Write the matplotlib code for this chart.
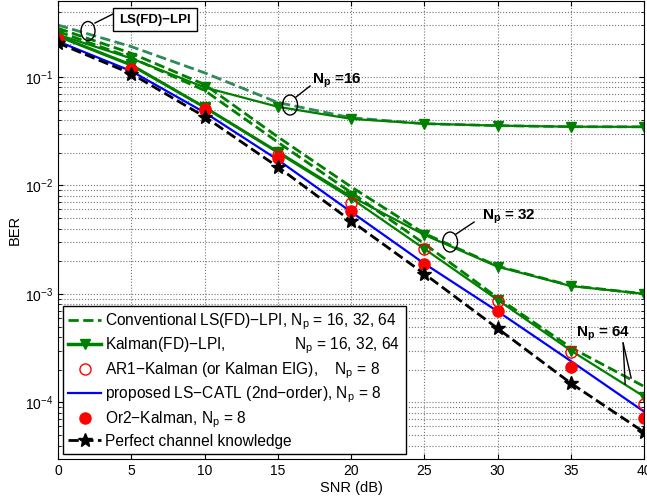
import numpy as np
import matplotlib
matplotlib.use("Agg")
import matplotlib.pyplot as plt
from matplotlib.patches import Ellipse
from matplotlib.lines import Line2D

plt.rcParams['font.family'] = ['Liberation Sans', 'DejaVu Sans']
plt.rcParams['mathtext.fontset'] = 'custom'
plt.rcParams['mathtext.rm'] = 'Liberation Sans'
plt.rcParams['mathtext.it'] = 'Liberation Sans:italic'
plt.rcParams['mathtext.bf'] = 'Liberation Sans:bold'

# SNR axis
snr = [0, 5, 10, 15, 20, 25, 30, 35, 40]

# Conventional LS(FD)-LPI (dashed)
conv_16 = [0.30, 0.19, 0.109, 0.058, 0.042, 0.037, 0.0355, 0.0347, 0.0346]
conv_32 = [0.28, 0.165, 0.085, 0.028, 0.0097, 0.0036, 0.0018, 0.00119, 0.0010]
conv_64 = [0.262, 0.15, 0.075, 0.025, 0.0086, 0.0029, 0.00092, 0.00032, 0.00014]

# Kalman(FD)-LPI (solid, triangles)
kal_16 = [0.245, 0.148, 0.080, 0.053, 0.041, 0.037, 0.0355, 0.0347, 0.0346]
kal_32 = [0.240, 0.130, 0.053, 0.0205, 0.0079, 0.0035, 0.00178, 0.00118, 0.0010]
kal_64 = [0.235, 0.127, 0.052, 0.0200, 0.0076, 0.0026, 0.00088, 0.00030, 0.000113]

# Np = 8 methods
ar1 = [0.225, 0.118, 0.051, 0.019, 0.0069, 0.0026, 0.00086, 0.00029, 0.000097]
catl = [0.212, 0.113, 0.047, 0.0172, 0.0057, 0.0019, 0.00069, 0.00024, 0.000082]
or2 = [0.215, 0.115, 0.049, 0.0178, 0.0058, 0.0019, 0.00070, 0.00021, 0.000072]
perfect = [0.205, 0.107, 0.043, 0.0148, 0.0047, 0.00153, 0.00048, 0.00015, 0.000053]

green = '#008000'
teal = '#2e8b57'

fig = plt.figure(figsize=(6.47, 4.99), dpi=100)
ax = fig.add_axes([0.0896, 0.080, 0.906, 0.918])

ax.semilogy(snr, conv_16, '--', color=teal, lw=2)
ax.semilogy(snr, conv_32, '--', color=green, lw=2)
ax.semilogy(snr, conv_64, '--', color=green, lw=2)
ax.semilogy(snr, kal_16, '-v', color=green, lw=1.6, ms=7)
ax.semilogy(snr, kal_32, '-v', color=green, lw=1.6, ms=7)
ax.semilogy(snr, kal_64, '-v', color=green, lw=1.6, ms=7)
ax.semilogy(snr, catl, '-', color='blue', lw=1.6)
ax.semilogy(snr, ar1, 'o', color='red', mfc='none', ms=8, mew=1)
ax.semilogy(snr, or2, 'o', color='red', ms=8)
ax.semilogy(snr, perfect, '--*', color='k', lw=2, ms=10)

ax.set_xlim(0, 40)
ax.set_ylim(3e-5, 0.5)
ax.set_xticks(snr)
ax.set_xlabel('SNR (dB)', fontsize=10.5, labelpad=2)
ax.set_ylabel('BER', fontsize=10.5, labelpad=2)
ax.tick_params(which='both', direction='in', top=True, right=True, labelsize=10)
ax.grid(True, which='major', linestyle=':', color='0.45', lw=0.8)
ax.grid(True, which='minor', axis='y', linestyle=':', color='0.45', lw=0.8)

# legend
handles = [
    Line2D([], [], ls='--', color=green, lw=2),
    Line2D([], [], ls='-', marker='v', color=green, lw=2.5, ms=7),
    Line2D([], [], ls='none', marker='o', color='red', mfc='none', ms=8),
    Line2D([], [], ls='-', color='blue', lw=1.6),
    Line2D([], [], ls='none', marker='o', color='red', ms=8),
    Line2D([], [], ls='--', marker='*', color='k', lw=2, ms=10),
]
labels = [
    'Conventional LS(FD)\u2212LPI, N$_{\\rm p}$ = 16, 32, 64',
    'Kalman(FD)\u2212LPI,' + ' ' * 16 + 'N$_{\\rm p}$ = 16, 32, 64',
    'AR1\u2212Kalman (or Kalman EIG),    N$_{\\rm p}$ = 8',
    'proposed LS\u2212CATL (2nd\u2212order), N$_{\\rm p}$ = 8',
    'Or2\u2212Kalman, N$_{\\rm p}$ = 8',
    'Perfect channel knowledge',
]
leg = ax.legend(handles, labels, loc='lower left', bbox_to_anchor=(0.0085, 0.011),
                borderaxespad=0, fontsize=11.2, fancybox=False, framealpha=1,
                edgecolor='k', handlelength=2.1, handletextpad=0.28,
                labelspacing=0.25, borderpad=0.35)
leg.get_frame().set_linewidth(1.0)


def af(px, py):
    return ((px - 58) / 586.0, (459 - py) / 458.0)


def ell(px, py, w, h):
    e = Ellipse(af(px, py), w / 586.0, h / 458.0, transform=ax.transAxes,
                fill=False, color='k', lw=1, zorder=5)
    ax.add_patch(e)


def seg(p1, p2):
    a, b = af(*p1), af(*p2)
    ax.plot([a[0], b[0]], [a[1], b[1]], '-', color='k', lw=1,
            transform=ax.transAxes, zorder=5)


# LS(FD)-LPI label
ell(88, 31, 14, 19)
seg((95, 23), (113, 14))
ax.text(*af(155, 19.5), 'LS(FD)\u2212LPI', transform=ax.transAxes, fontsize=9.5,
        fontweight='bold', ha='center', va='center', zorder=6,
        bbox=dict(boxstyle='square,pad=0.45', fc='white', ec='k', lw=1))

# Np = 16
ell(290, 105, 15, 20)
seg((296, 97), (310, 86))
ax.text(*af(312, 84), 'N$_{\\bf p}$ =16', transform=ax.transAxes, fontsize=11,
        fontweight='bold', ha='left', va='baseline', zorder=6)

# Np = 32
ell(450, 242, 15, 20)
seg((456, 234), (474, 222))
ax.text(*af(482, 220), 'N$_{\\bf p}$ = 32', transform=ax.transAxes, fontsize=11,
        fontweight='bold', ha='left', va='baseline', zorder=6)

# Np = 64
ax.text(*af(576, 337), 'N$_{\\bf p}$ = 64', transform=ax.transAxes, fontsize=11,
        fontweight='bold', ha='left', va='baseline', zorder=6)
seg((623, 343), (625, 384))
seg((623, 343), (631, 378))

fig.savefig('out.png', dpi=100)
